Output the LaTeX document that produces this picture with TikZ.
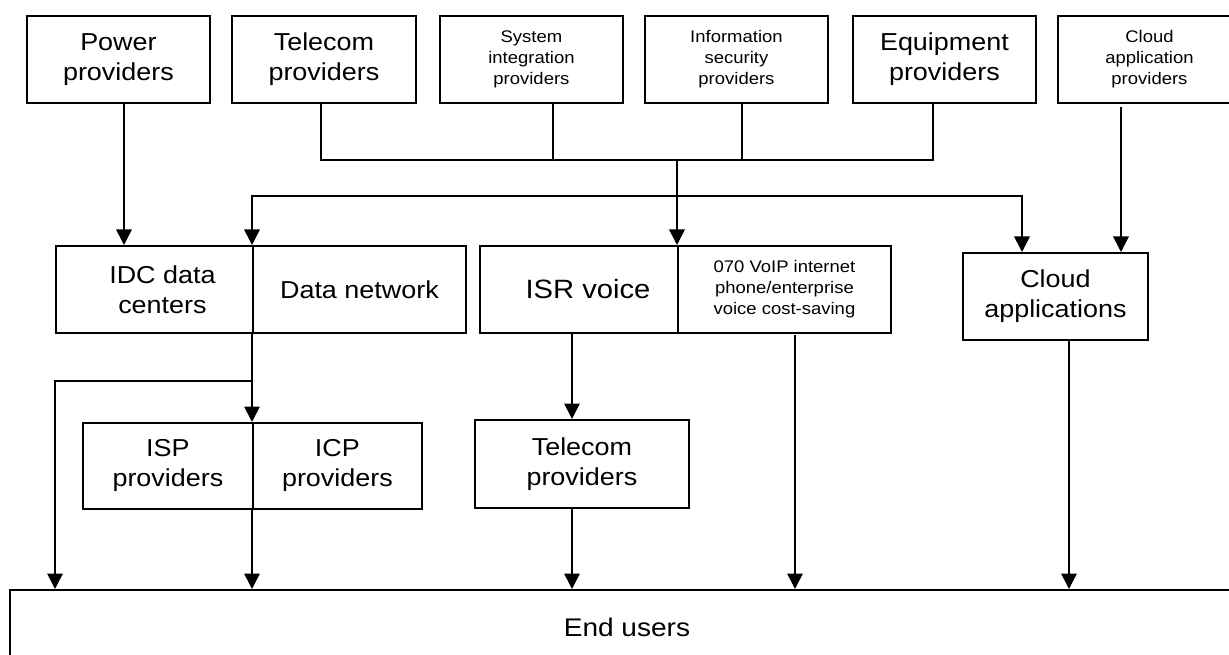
\documentclass[tikz,border=0pt]{standalone}
\usepackage{fontspec}
\setmainfont{Liberation Sans}[FakeStretch=1.1]
\usetikzlibrary{arrows.meta,calc}
\begin{document}
\begin{tikzpicture}[x=1pt,y=-1pt,
  box/.style={draw,line width=1.9pt,inner sep=0pt,anchor=north west,align=center},
  lbl/.style={inner sep=0pt,align=center},
  big/.style={font=\fontsize{24.5}{30}\selectfont},
  bigger/.style={font=\fontsize{26.5}{32}\selectfont},
  huge/.style={font=\fontsize{25.5}{30}\selectfont},
  small/.style={font=\fontsize{16.8}{21}\selectfont},
  conn/.style={line width=1.7pt},
  arr/.style={conn,-{Triangle[width=15.5pt,length=15.5pt]}},
]
\useasboundingbox (0,0) rectangle (1229,655);
\clip (0,0) rectangle (1229,655);

% top row
\node[box,big,minimum width=183pt,minimum height=87pt] (pow) at (26,15) {Power\\providers};
\node[box,big,minimum width=184pt,minimum height=87pt] (tel) at (231,15) {Telecom\\providers};
\node[box,small,minimum width=183pt,minimum height=87pt] (sys) at (439,15) {System\\integration\\providers};
\node[box,small,minimum width=183pt,minimum height=87pt] (info) at (644,15) {Information\\security\\providers};
\node[box,big,minimum width=183pt,minimum height=87pt] (equip) at (852,15) {Equipment\\providers};
\node[box,small,minimum width=183pt,minimum height=87pt] (cloudp) at (1057,15) {Cloud\\application\\providers};

% middle row
\node[box,minimum width=197pt,minimum height=87pt] (idc) at (55,245) {};
\node[lbl,big] (idct) at ($(idc.center)+(8,0)$) {IDC data\\centers};
\node[box,big,minimum width=213pt,minimum height=87pt] (dnet) at (252,245) {Data network};
\node[box,minimum width=198pt,minimum height=87pt] (isr) at (479,245) {};
\node[lbl,bigger] (isrt) at ($(isr.center)+(9,0)$) {ISR voice};
\node[box,small,minimum width=213pt,minimum height=87pt] (voip) at (677,245) {070 VoIP internet\\phone/enterprise\\voice cost-saving};
\node[box,big,minimum width=185pt,minimum height=87pt] (capp) at (962,252) {Cloud\\applications};

% lower row
\node[box,big,minimum width=170pt,minimum height=86pt] (isp) at (82,422) {ISP\\providers};
\node[box,big,minimum width=169pt,minimum height=86pt] (icp) at (252,422) {ICP\\providers};
\node[box,big,minimum width=214pt,minimum height=88pt] (tel2) at (474,419) {Telecom\\providers};

% end users
\node[box,huge,minimum width=1234pt,minimum height=74pt] (endu) at (9,589) {End users};

% connectors: top
\coordinate (x124) at (124,0);
\draw[arr] (pow.south -| x124) -- (idc.north -| x124);

\coordinate (j1) at (677,160);
\coordinate (j2) at (677,196);
\coordinate (xtel) at (321,0);
\coordinate (xsys) at (553,0);
\coordinate (xinf) at (742,0);
\coordinate (xeq) at (933,0);
\draw[conn] (tel.south -| xtel) |- (j1);
\draw[conn] (equip.south -| xeq) |- (j1);
\draw[conn] (sys.south -| xsys) -- (xsys |- j1);
\draw[conn] (info.south -| xinf) -- (xinf |- j1);
\draw[conn] (j1) -- (j2);
\draw[arr] (j2) -- (j2 |- isr.north);
\coordinate (x252) at (252,0);
\draw[arr] (j2) -| (idc.north -| x252);
\coordinate (xca) at (1022,0);
\draw[arr] (j2) -| (capp.north -| xca);

\coordinate (cps) at (1121,107);
\draw[arr] (cps) -- (cps |- capp.north);

% connectors: middle to lower
\draw[arr] (idc.south -| x252) -- (isp.north -| x252);
\coordinate (br) at (252,381);
\coordinate (x55) at (55,0);
\draw[arr] (br) -| (endu.north -| x55);
\draw[arr] (isp.south -| x252) -- (endu.north -| x252);
\coordinate (x572) at (572,0);
\draw[arr] (isr.south -| x572) -- (tel2.north -| x572);
\draw[arr] (tel2.south -| x572) -- (endu.north -| x572);
\coordinate (vs) at (795,335);
\draw[arr] (vs) -- (endu.north -| vs);
\coordinate (x1069) at (1069,0);
\draw[arr] (capp.south -| x1069) -- (endu.north -| x1069);
\end{tikzpicture}
\end{document}
